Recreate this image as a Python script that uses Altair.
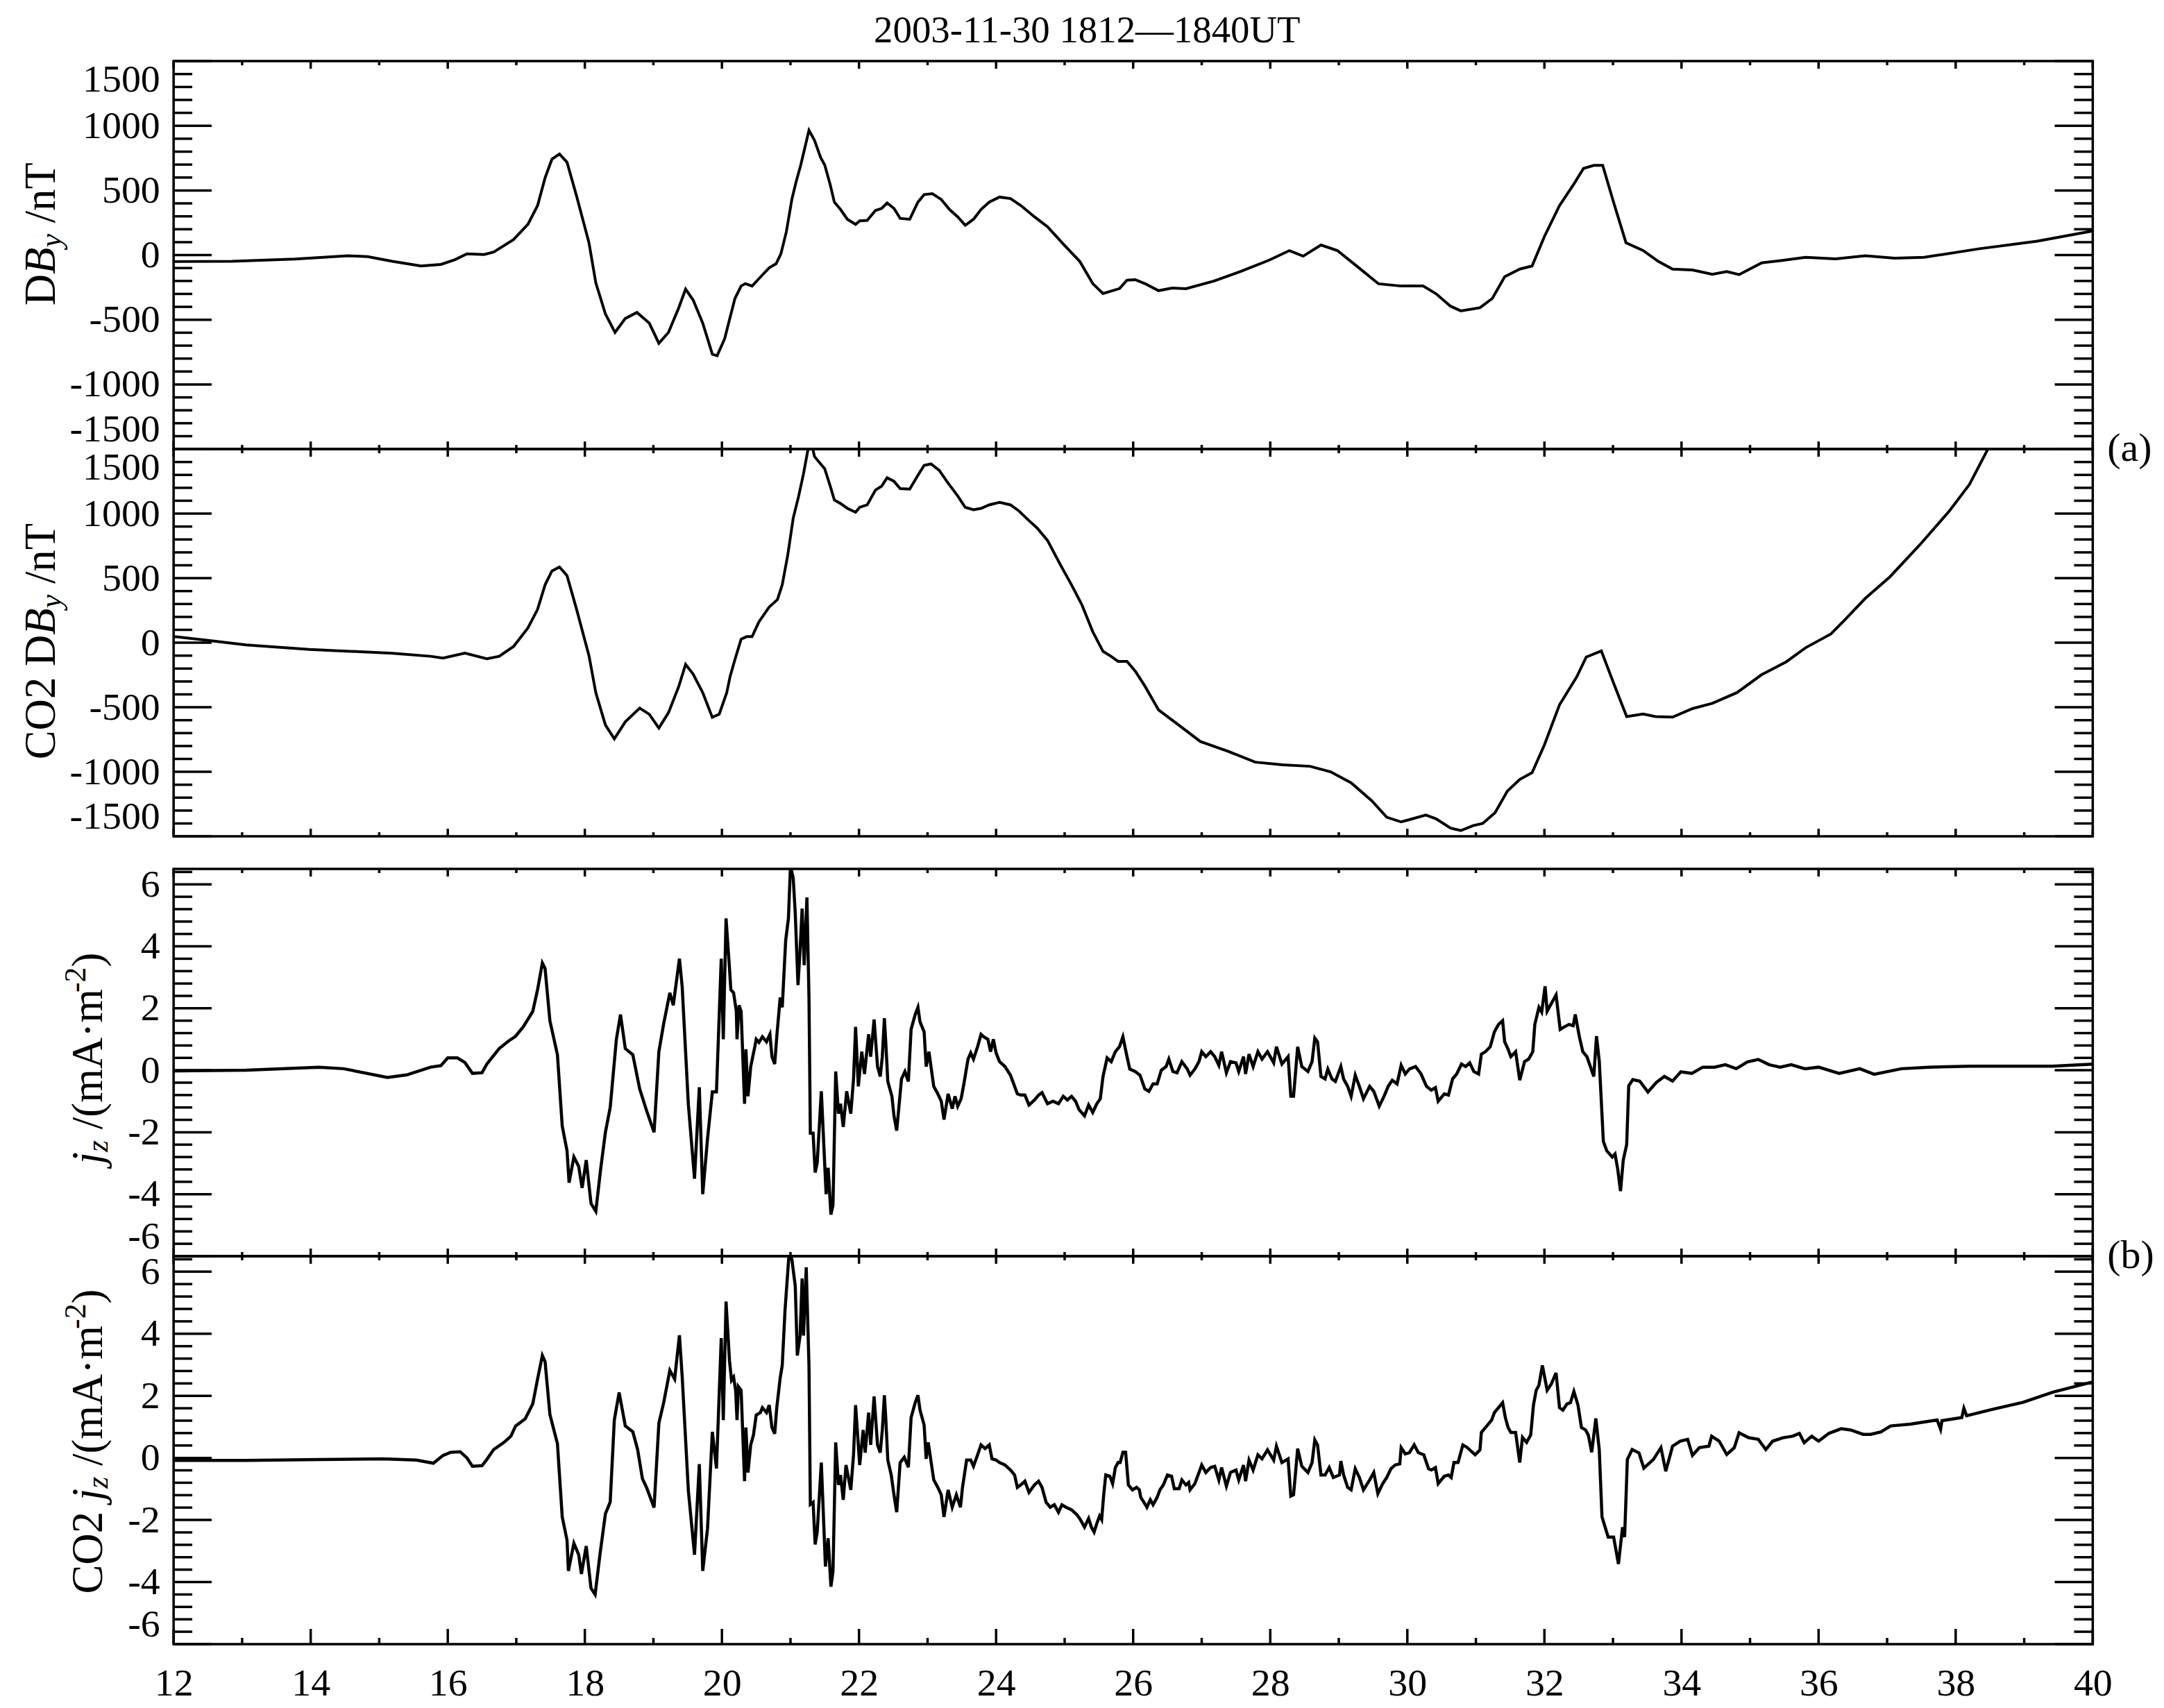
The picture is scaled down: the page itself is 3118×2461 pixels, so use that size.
import altair as alt
import pandas as pd

FONT = "Liberation Serif"

# ---------------- data ----------------
p1_t = [12.0, 12.85, 13.77, 14.55, 14.83, 15.19, 15.61, 15.9, 16.1, 16.28, 16.53, 16.67, 16.96, 17.17, 17.31,
        17.42, 17.52, 17.63, 17.74, 17.88, 18.06, 18.16, 18.3, 18.44, 18.59, 18.76, 18.94, 19.08, 19.22, 19.37,
        19.47, 19.58, 19.72, 19.86, 19.93, 20.04, 20.11, 20.19, 20.28, 20.34, 20.44, 20.54, 20.69, 20.79, 20.86,
        20.94, 21.02, 21.08, 21.15, 21.21, 21.27, 21.35, 21.44, 21.5, 21.58, 21.64, 21.73, 21.83, 21.95, 22.01,
        22.12, 22.24, 22.33, 22.41, 22.51, 22.6, 22.74, 22.86, 22.95, 23.07, 23.2, 23.32, 23.44, 23.55, 23.67,
        23.78, 23.9, 24.05, 24.21, 24.36, 24.56, 24.75, 24.98, 25.22, 25.41, 25.56, 25.68, 25.8, 25.91, 26.03,
        26.17, 26.37, 26.57, 26.77, 27.18, 27.58, 27.98, 28.28, 28.48, 28.74, 28.98, 29.28, 29.58, 29.91, 30.23,
        30.42, 30.63, 30.78, 31.06, 31.24, 31.42, 31.64, 31.82, 32.0, 32.22, 32.43, 32.57, 32.72, 32.85, 33.01,
        33.19, 33.44, 33.66, 33.87, 34.16, 34.45, 34.66, 34.84, 35.17, 35.45, 35.81, 36.25, 36.68, 37.11, 37.54,
        38.33, 39.19, 40.0]
p1_v = [-50, -48, -31, -5, -12, -48, -84, -72, -36, 10, 5, 24, 120, 239, 383,
        598, 742, 782, 718, 455, 96, -215, -455, -598, -490, -443, -526, -682, -598, -407,
        -263, -347, -526, -766, -778, -646, -500, -335, -239, -220, -239, -182, -98, -67, 9,
        181, 430, 563, 697, 831, 965, 888, 755, 697, 544, 410, 353, 277, 238, 265,
        269, 345, 361, 403, 361, 284, 277, 410, 468, 475, 430, 353, 296, 231, 277,
        353, 410, 449, 437, 384, 296, 219, 86, -48, -220, -297, -278, -259, -194, -190,
        -220, -275, -255, -260, -200, -124, -40, 35, -8, 78, 35, -93, -222, -239, -239,
        -299, -395, -431, -407, -335, -167, -108, -84, 144, 383, 550, 670, 694, 694, 407,
        96, 36, -48, -108, -115, -148, -127, -151, -60, -43, -17, -29, -5, -24, -17,
        48, 108, 187]

p2_t = [12.0, 12.57, 13.06, 13.98, 15.19, 15.75, 15.93, 16.25, 16.57, 16.75, 16.96, 17.17, 17.31, 17.42, 17.52,
        17.63, 17.74, 17.88, 18.06, 18.16, 18.3, 18.43, 18.59, 18.8, 18.94, 19.08, 19.22, 19.37, 19.47, 19.58,
        19.72, 19.86, 19.96, 20.07, 20.12, 20.19, 20.28, 20.36, 20.44, 20.54, 20.69, 20.81, 20.88, 20.96, 21.04,
        21.12, 21.19, 21.25, 21.3, 21.35, 21.44, 21.5, 21.58, 21.64, 21.73, 21.83, 21.95, 22.01, 22.12, 22.24,
        22.33, 22.41, 22.51, 22.6, 22.74, 22.86, 22.95, 23.05, 23.17, 23.28, 23.44, 23.55, 23.67, 23.78, 23.9,
        24.05, 24.21, 24.33, 24.48, 24.6, 24.75, 24.94, 25.1, 25.25, 25.41, 25.56, 25.68, 25.78, 25.91, 26.03,
        26.17, 26.37, 26.67, 26.98, 27.38, 27.78, 28.18, 28.58, 28.88, 29.18, 29.48, 29.7, 29.91, 30.27, 30.42,
        30.63, 30.78, 30.96, 31.1, 31.28, 31.46, 31.64, 31.82, 32.0, 32.22, 32.47, 32.61, 32.83, 33.01, 33.2,
        33.44, 33.62, 33.87, 34.16, 34.45, 34.81, 35.17, 35.53, 35.81, 36.18, 36.4, 36.68, 37.04, 37.48, 37.91,
        38.2, 38.47, 39.0, 40.0]
p2_v = [48, 14, -17, -52, -81, -105, -119, -81, -124, -105, -29, 115, 258, 449, 556,
        587, 520, 258, -100, -387, -637, -745, -613, -506, -554, -661, -542, -339, -167, -243,
        -387, -578, -554, -387, -260, -130, 28, 47, 47, 162, 277, 334, 449, 678, 965,
        1137, 1309, 1481, 1560, 1443, 1385, 1347, 1213, 1106, 1079, 1041, 1011, 1049, 1068, 1183,
        1213, 1278, 1251, 1194, 1190, 1297, 1374, 1385, 1336, 1251, 1137, 1049, 1030, 1041, 1068,
        1087, 1068, 1022, 946, 888, 793, 602, 449, 296, 86, -67, -106, -144, -144, -220,
        -335, -520, -640, -765, -840, -925, -946, -957, -1000, -1085, -1224, -1352, -1388, -1335, -1364,
        -1436, -1455, -1417, -1400, -1316, -1149, -1059, -1006, -791, -481, -266, -111, -63, -314, -572,
        -552, -572, -576, -510, -469, -386, -247, -147, -39, 68, 187, 343, 510, 760, 1022,
        1225, 1500, 2050, 3300]

p3_t = [12.0, 13.06, 14.12, 14.48, 15.12, 15.4, 15.75, 15.9, 16.0, 16.14, 16.25, 16.36, 16.5, 16.57, 16.75,
        16.89, 16.99, 17.1, 17.24, 17.31, 17.38, 17.42, 17.49, 17.6, 17.67, 17.74, 17.77, 17.84, 17.91, 17.96,
        18.02, 18.09, 18.16, 18.23, 18.3, 18.37, 18.46, 18.52, 18.59, 18.7, 18.8, 18.9, 19.01, 19.08, 19.15,
        19.24, 19.29, 19.38, 19.42, 19.51, 19.6, 19.67, 19.72, 19.79, 19.86, 19.92, 19.99, 20.02, 20.06, 20.11,
        20.13, 20.17, 20.21, 20.22, 20.25, 20.28, 20.33, 20.35, 20.38, 20.42, 20.48, 20.5, 20.54, 20.59, 20.65,
        20.7, 20.73, 20.77, 20.8, 20.85, 20.88, 20.93, 20.97, 21.0, 21.04, 21.07, 21.11, 21.14, 21.17, 21.2,
        21.24, 21.27, 21.29, 21.33, 21.36, 21.39, 21.45, 21.52, 21.55, 21.59, 21.62, 21.66, 21.7, 21.73, 21.77,
        21.82, 21.88, 21.92, 21.95, 21.99, 22.04, 22.08, 22.14, 22.17, 22.22, 22.27, 22.31, 22.34, 22.37, 22.39,
        22.42, 22.48, 22.51, 22.55, 22.62, 22.67, 22.72, 22.76, 22.82, 22.86, 22.89, 22.95, 22.98, 23.02, 23.09,
        23.15, 23.2, 23.24, 23.3, 23.36, 23.4, 23.44, 23.49, 23.53, 23.59, 23.63, 23.67, 23.73, 23.78, 23.82,
        23.88, 23.92, 23.96, 24.0, 24.05, 24.13, 24.21, 24.31, 24.36, 24.42, 24.48, 24.56, 24.62, 24.67, 24.75,
        24.83, 24.91, 24.98, 25.04, 25.1, 25.16, 25.21, 25.29, 25.35, 25.41, 25.47, 25.52, 25.56, 25.62, 25.68,
        25.74, 25.8, 25.85, 25.91, 25.95, 26.03, 26.1, 26.17, 26.23, 26.29, 26.35, 26.41, 26.48, 26.52, 26.58,
        26.64, 26.71, 26.79, 26.83, 26.9, 26.96, 27.0, 27.06, 27.13, 27.19, 27.25, 27.29, 27.36, 27.42, 27.5,
        27.54, 27.61, 27.64, 27.69, 27.75, 27.82, 27.88, 27.96, 28.05, 28.09, 28.17, 28.26, 28.3, 28.34, 28.4,
        28.46, 28.55, 28.61, 28.65, 28.69, 28.74, 28.8, 28.84, 28.9, 28.95, 29.03, 29.07, 29.13, 29.18, 29.24,
        29.3, 29.36, 29.45, 29.51, 29.59, 29.66, 29.72, 29.78, 29.85, 29.91, 29.97, 30.03, 30.12, 30.2, 30.28,
        30.35, 30.41, 30.45, 30.54, 30.6, 30.66, 30.72, 30.79, 30.85, 30.91, 30.97, 31.04, 31.08, 31.14, 31.21,
        31.27, 31.33, 31.39, 31.42, 31.47, 31.51, 31.58, 31.64, 31.71, 31.77, 31.83, 31.86, 31.92, 31.96, 32.01,
        32.04, 32.1, 32.17, 32.23, 32.29, 32.36, 32.42, 32.45, 32.51, 32.56, 32.62, 32.67, 32.72, 32.76, 32.8,
        32.86, 32.91, 32.99, 33.03, 33.07, 33.11, 33.15, 33.2, 33.23, 33.29, 33.39, 33.51, 33.63, 33.75, 33.87,
        33.99, 34.15, 34.31, 34.48, 34.64, 34.8, 34.96, 35.12, 35.28, 35.44, 35.6, 35.8, 36.0, 36.3, 36.6,
        36.81, 37.21, 37.61, 38.21, 38.81, 39.41, 40.0]
p3_v = [-0.02, 0.0, 0.1, 0.05, -0.23, -0.15, 0.1, 0.15, 0.4, 0.4, 0.25, -0.1, -0.08, 0.2, 0.7,
        0.95, 1.1, 1.4, 1.9, 2.6, 3.46, 3.28, 1.6, 0.5, -1.8, -2.6, -3.63, -2.8, -3.1, -3.8,
        -2.9, -4.3, -4.55, -3.2, -2.0, -1.2, 1.0, 1.8, 0.7, 0.5, -0.6, -1.3, -2.0, 0.6, 1.5,
        2.5, 2.1, 3.6, 2.7, -1.1, -3.5, -0.55, -4.0, -2.2, -0.7, -0.7, 3.6, 1.0, 4.9, 3.3,
        2.6, 2.5, 1.9, 1.0, 2.1, 1.9, -1.08, 0.68, -0.84, 0.12, 0.76, 1.0, 0.9, 1.08, 0.92,
        1.16, 0.44, 0.2, 1.08, 2.35, 2.03, 4.19, 4.9, 6.6, 6.2, 5.06, 2.75, 3.87, 5.22, 3.39,
        5.58, 2.35, -2.03, -2.03, -3.3, -2.99, -0.68, -4.0, -3.15, -4.66, -4.35, -0.04, -1.4, -1.08, -1.83,
        -0.68, -1.4, -0.28, 1.4, -0.52, 0.6, -0.12, 1.16, 0.44, 1.64, 0.12, -0.2, 0.44, 1.68, 0.92,
        -0.36, -0.84, -1.47, -1.95, -0.28, -0.04, -0.36, 1.32, 1.8, 2.03, 1.56, 1.24, 0.12, 0.6, -0.52,
        -0.76, -1.0, -1.59, -0.76, -1.24, -0.84, -1.16, -0.92, -0.44, 0.36, 0.56, 0.36, 0.76, 1.16, 1.08,
        1.0, 0.6, 1.0, 0.56, 0.28, 0.12, -0.16, -0.76, -0.8, -0.8, -1.12, -0.96, -0.8, -0.72, -1.08,
        -1.0, -1.08, -0.84, -0.96, -0.84, -1.0, -1.27, -1.47, -1.12, -1.36, -1.08, -0.92, -0.2, 0.4, 0.28,
        0.6, 0.76, 1.08, 0.44, 0.04, -0.04, -0.16, -0.6, -0.68, -0.44, -0.44, 0.0, 0.12, 0.36, -0.04,
        -0.08, 0.28, 0.04, -0.16, 0.04, 0.28, 0.6, 0.44, 0.6, 0.44, 0.16, 0.6, -0.08, 0.28, 0.24,
        -0.04, 0.44, -0.12, 0.52, 0.12, 0.6, 0.36, 0.6, 0.24, 0.76, 0.2, 0.44, -0.84, -0.84, 0.76,
        0.12, -0.04, 0.28, 1.04, 0.92, -0.2, -0.28, 0.04, -0.28, -0.36, 0.12, -0.28, -0.52, -0.84, -0.16,
        -0.52, -0.92, -0.52, -0.68, -1.16, -0.84, -0.52, -0.32, -0.44, 0.16, -0.12, 0.04, 0.12, -0.12, -0.52,
        -0.64, -0.56, -1.0, -0.76, -0.8, -0.28, -0.12, 0.2, 0.12, 0.24, -0.04, -0.12, 0.52, 0.6, 0.76,
        1.24, 1.48, 1.6, 0.92, 0.68, 0.44, 0.6, -0.32, 0.28, 0.36, 0.6, 1.48, 2.03, 1.88, 2.71,
        1.91, 2.15, 2.43, 1.32, 1.4, 1.48, 1.44, 1.8, 1.08, 0.6, 0.44, 0.12, -0.2, 1.1, 0.3,
        -2.3, -2.6, -2.8, -2.7, -3.2, -3.9, -2.9, -2.4, -0.5, -0.3, -0.35, -0.7, -0.4, -0.2, -0.35,
        -0.05, -0.1, 0.1, 0.1, 0.18, 0.05, 0.27, 0.35, 0.18, 0.1, 0.18, 0.05, 0.1, -0.1, 0.05,
        -0.13, 0.05, 0.1, 0.13, 0.13, 0.13, 0.2]

p4_t = [12.0, 13.06, 14.12, 15.05, 15.54, 15.79, 15.93, 16.04, 16.18, 16.28, 16.36, 16.5, 16.57, 16.67, 16.82,
        16.92, 16.99, 17.13, 17.24, 17.31, 17.38, 17.42, 17.49, 17.6, 17.67, 17.74, 17.76, 17.84, 17.91, 17.95,
        18.02, 18.09, 18.15, 18.22, 18.3, 18.37, 18.43, 18.5, 18.59, 18.7, 18.77, 18.84, 18.9, 19.01, 19.08,
        19.15, 19.24, 19.31, 19.38, 19.42, 19.51, 19.6, 19.67, 19.72, 19.79, 19.86, 19.92, 19.99, 20.02, 20.06,
        20.11, 20.14, 20.17, 20.2, 20.22, 20.24, 20.28, 20.33, 20.35, 20.38, 20.42, 20.46, 20.5, 20.56, 20.59,
        20.65, 20.69, 20.73, 20.77, 20.8, 20.85, 20.88, 20.92, 20.98, 21.02, 21.07, 21.1, 21.14, 21.17, 21.19,
        21.23, 21.27, 21.29, 21.33, 21.36, 21.39, 21.45, 21.51, 21.55, 21.59, 21.62, 21.66, 21.7, 21.73, 21.77,
        21.81, 21.88, 21.92, 21.95, 22.01, 22.06, 22.09, 22.14, 22.17, 22.22, 22.27, 22.31, 22.34, 22.37, 22.39,
        22.42, 22.47, 22.51, 22.55, 22.6, 22.66, 22.72, 22.76, 22.82, 22.86, 22.89, 22.95, 22.98, 23.01, 23.09,
        23.15, 23.2, 23.24, 23.3, 23.36, 23.42, 23.48, 23.51, 23.57, 23.63, 23.67, 23.73, 23.78, 23.84, 23.9,
        23.94, 24.0, 24.05, 24.13, 24.21, 24.27, 24.31, 24.36, 24.42, 24.48, 24.56, 24.62, 24.67, 24.73, 24.79,
        24.85, 24.91, 24.96, 25.02, 25.1, 25.18, 25.23, 25.29, 25.35, 25.39, 25.43, 25.47, 25.51, 25.54, 25.57,
        25.6, 25.66, 25.7, 25.74, 25.78, 25.81, 25.85, 25.89, 25.93, 25.99, 26.05, 26.09, 26.11, 26.18, 26.2,
        26.25, 26.29, 26.35, 26.39, 26.44, 26.5, 26.56, 26.6, 26.67, 26.71, 26.77, 26.81, 26.83, 26.9, 26.96,
        27.0, 27.06, 27.13, 27.19, 27.25, 27.29, 27.36, 27.42, 27.5, 27.54, 27.61, 27.64, 27.69, 27.75, 27.82,
        27.88, 27.96, 28.05, 28.09, 28.17, 28.26, 28.3, 28.34, 28.4, 28.46, 28.55, 28.61, 28.65, 28.69, 28.74,
        28.8, 28.86, 28.92, 29.01, 29.03, 29.07, 29.13, 29.18, 29.24, 29.3, 29.36, 29.45, 29.51, 29.57, 29.64,
        29.7, 29.76, 29.82, 29.89, 29.91, 29.97, 30.03, 30.1, 30.16, 30.24, 30.31, 30.35, 30.41, 30.45, 30.54,
        30.6, 30.64, 30.68, 30.74, 30.81, 30.87, 30.93, 30.99, 31.06, 31.08, 31.14, 31.23, 31.27, 31.33, 31.39,
        31.43, 31.47, 31.51, 31.58, 31.64, 31.68, 31.74, 31.8, 31.84, 31.88, 31.92, 31.97, 32.04, 32.1, 32.17,
        32.22, 32.27, 32.33, 32.38, 32.43, 32.49, 32.54, 32.6, 32.64, 32.69, 32.75, 32.8, 32.84, 32.93, 33.01,
        33.08, 33.14, 33.17, 33.21, 33.28, 33.38, 33.45, 33.59, 33.7, 33.77, 33.87, 33.98, 34.09, 34.16, 34.26,
        34.4, 34.44, 34.55, 34.66, 34.77, 34.84, 34.98, 35.12, 35.23, 35.33, 35.48, 35.62, 35.72, 35.79, 35.9,
        36.0, 36.15, 36.33, 36.47, 36.65, 36.76, 36.91, 37.05, 37.34, 37.55, 37.73, 37.78, 37.8, 38.09, 38.12,
        38.16, 38.55, 38.98, 39.42, 40.0]
p4_v = [-0.08, -0.08, -0.05, -0.03, -0.07, -0.17, 0.08, 0.18, 0.2, 0.0, -0.27, -0.25, -0.05, 0.27, 0.5,
        0.7, 1.03, 1.26, 1.74, 2.54, 3.3, 3.1, 1.4, 0.46, -1.9, -2.65, -3.64, -2.75, -3.12, -3.74,
        -2.84, -4.2, -4.4, -3.12, -1.8, -1.42, 1.22, 2.11, 1.03, 0.84, 0.27, -0.67, -0.95, -1.6, 1.12,
        1.78, 2.82, 2.54, 3.95, 2.63, -1.05, -3.12, -0.2, -3.64, -2.27, 0.84, -0.34, 3.86, 1.22, 5.04,
        3.14, 2.5, 2.6, 2.18, 1.22, 2.3, 2.18, -0.75, 0.98, -0.47, 0.42, 0.74, 1.38, 1.46, 1.62,
        1.46, 1.7, 0.98, 0.78, 1.62, 2.58, 2.98, 4.74, 6.6, 6.4, 5.54, 3.3, 3.94, 5.78, 3.94,
        6.14, 2.98, -1.5, -1.43, -2.79, -2.39, -0.15, -3.5, -2.59, -4.15, -3.67, 0.5, -0.87, -0.55, -1.35,
        -0.23, -1.03, 0.1, 1.7, -0.23, 0.9, 0.17, 1.46, 0.42, 1.98, 0.42, 0.17, 0.9, 2.02, 1.3,
        -0.07, -0.55, -1.19, -1.75, -0.15, 0.02, -0.3, 1.3, 1.78, 2.02, 1.54, 1.06, -0.03, 0.5, -0.7,
        -0.95, -1.19, -1.9, -1.03, -1.59, -1.19, -1.59, -0.95, -0.07, -0.07, -0.27, 0.1, 0.42, 0.3, 0.42,
        -0.03, -0.07, -0.15, -0.23, -0.39, -0.55, -0.95, -0.87, -0.75, -1.11, -0.87, -0.75, -0.95, -1.43, -1.59,
        -1.51, -1.75, -1.51, -1.59, -1.67, -1.83, -1.99, -2.23, -1.95, -2.23, -2.39, -2.11, -1.87, -1.99, -1.19,
        -0.55, -0.59, -0.83, -0.31, -0.15, -0.15, 0.18, 0.18, -0.87, -1.03, -0.95, -1.03, -1.27, -1.51, -1.59,
        -1.35, -1.51, -1.27, -1.03, -0.87, -0.55, -0.59, -0.99, -0.99, -0.71, -0.87, -0.79, -1.03, -0.83, -0.47,
        -0.23, -0.47, -0.31, -0.27, -0.71, -0.31, -0.91, -0.47, -0.39, -0.71, -0.23, -0.75, -0.07, -0.39, 0.1,
        -0.03, 0.26, -0.07, 0.38, -0.15, -0.03, -1.23, -1.19, 0.3, -0.27, -0.47, -0.15, 0.58, 0.42, -0.55,
        -0.55, -0.31, -0.63, -0.55, -0.1, -0.55, -0.95, -1.03, -0.35, -0.63, -1.03, -0.71, -0.47, -1.15, -0.83,
        -0.63, -0.35, -0.23, -0.19, 0.33, 0.13, 0.17, 0.42, 0.17, 0.1, -0.35, -0.39, -0.31, -0.83, -0.59,
        -0.55, -0.63, -0.15, -0.15, 0.42, 0.34, 0.22, 0.1, 0.26, 0.82, 0.98, 1.22, 1.46, 1.62, 1.78,
        1.3, 0.98, 0.82, 0.82, -0.15, 0.66, 0.5, 0.74, 1.7, 2.18, 2.34, 2.98, 2.18, 2.38, 2.74,
        1.62, 1.54, 1.74, 1.78, 2.14, 1.7, 0.98, 0.9, 0.74, 0.18, 1.27, 0.27, -1.9, -2.55, -2.55,
        -3.42, -2.23, -2.55, -0.05, 0.27, 0.16, -0.33, -0.05, 0.33, -0.43, 0.38, 0.54, 0.6, 0.08, 0.33,
        0.38, 0.7, 0.54, 0.11, 0.33, 0.81, 0.65, 0.6, 0.27, 0.54, 0.65, 0.7, 0.79, 0.49, 0.7,
        0.54, 0.79, 0.94, 0.9, 0.76, 0.76, 0.84, 1.03, 1.09, 1.16, 1.22, 0.92, 1.2, 1.3, 1.6,
        1.36, 1.57, 1.79, 2.12, 2.45]

# ---------------- axis ticks / labels ----------------
x_major = [12, 14, 16, 18, 20, 22, 24, 26, 28, 30, 32, 34, 36, 38, 40]
x_minor = [13, 15, 17, 19, 21, 23, 25, 27, 29, 31, 33, 35, 37, 39]
b_major = [-1500, -1000, -500, 0, 500, 1000, 1500]
b_minor = [v for v in range(-1400, 1500, 100) if v % 500 != 0]
j_major = [-6, -4, -2, 0, 2, 4, 6]
j_minor = [round(-6 + 0.4 * k, 1) for k in range(32) if k % 5 != 0]

title_text = "2003-11-30 1812\u20141840UT"
t1_pieces = [("D", "normal", ""), ("B", "italic", ""), ("y", "italic", "sub"), (" /nT", "normal", "")]
t2_pieces = [("CO2 D", "normal", ""), ("B", "italic", ""), ("y", "italic", "sub"), (" /nT", "normal", "")]
t3_pieces = [("j", "italic", ""), ("z", "italic", "sub"), (" /(mA\u00b7m", "normal", ""),
             ("-2", "normal", "sup"), (")", "normal", "")]
t4_pieces = [("CO2 ", "normal", ""), ("j", "italic", ""), ("z", "italic", "sub"),
             (" /(mA\u00b7m", "normal", ""), ("-2", "normal", "sup"), (")", "normal", "")]

# ---------------- layout ----------------
W = 2775
H = [561, 560, 560, 561]
GAP = 47
TICK_FS = 56
YT_FS = 63
MAJ_Y, MIN_Y = 55, 27

CW = {'D': 0.722, 'C': 0.667, 'O': 0.722, '2': 0.5, ' ': 0.25, '/': 0.278, 'n': 0.5, 'T': 0.611,
      '(': 0.333, ')': 0.333, 'm': 0.778, 'A': 0.722, '\u00b7': 0.25, '-': 0.333,
      'B': 0.611, 'y': 0.444, 'j': 0.278, 'z': 0.389}

x_scale = alt.Scale(domain=[12, 40], nice=False, zero=False)
one = pd.DataFrame({"a": [0]})


def ytitle_layers(pieces, center, base_x):
    widths = []
    for txt, style, kind in pieces:
        f = YT_FS * (0.7 if kind else 1.0)
        widths.append(sum(CW.get(c, 0.5) for c in txt) * f)
    total = sum(widths)
    pos = center + total / 2.0
    layers = []
    for (txt, style, kind), w in zip(pieces, widths):
        f = YT_FS * (0.7 if kind else 1.0)
        lead = len(txt) - len(txt.lstrip(" "))
        start = pos - lead * CW[' '] * f
        dx = 9 if kind == "sub" else (-24 if kind == "sup" else 0)
        layers.append(alt.Chart(one).mark_text(
            text=txt.strip(), font=FONT, fontSize=f, fontStyle=style, angle=270,
            align="left", baseline="alphabetic", color="black"
        ).encode(x=alt.value(base_x + dx), y=alt.value(start)))
        pos -= w
    return layers


def panel(t, v, dom, ymaj, ymin, h, pieces, tcenter, tbase, lw, bottom=False, tag=None):
    ys = alt.Scale(domain=dom, nice=False, zero=False)
    if bottom:
        xax = alt.Axis(values=x_major, ticks=False, domain=False, grid=False, labelFont=FONT,
                       labelFontSize=TICK_FS, labelPadding=30, labelFlush=False, labelColor="black",
                       labelExpr="'' + datum.value", title=None)
    else:
        xax = None
    yax = alt.Axis(values=ymaj, ticks=False, domain=False, grid=False, labelFont=FONT,
                   labelFontSize=TICK_FS, labelPadding=20, labelFlush=True, labelOverlap=False,
                   labelColor="black", labelExpr="'' + datum.value", title=None)
    line = alt.Chart(pd.DataFrame({"t": t, "v": v})).mark_line(
        color="black", strokeWidth=lw, clip=True).encode(
        x=alt.X("t:Q", scale=x_scale, axis=xax),
        y=alt.Y("v:Q", scale=ys, axis=yax))
    layers = [line]
    ymj = pd.DataFrame({"v": ymaj})
    ymn = pd.DataFrame({"v": ymin})
    for df, ln in ((ymj, MAJ_Y), (ymn, MIN_Y)):
        for x0, x1 in ((0, ln), (W, W - ln)):
            layers.append(alt.Chart(df).mark_rule(color="black", strokeWidth=3.5).encode(
                y=alt.Y("v:Q", scale=ys, axis=yax), x=alt.value(x0), x2=alt.value(x1)))
    xmj = pd.DataFrame({"t": x_major})
    xmn = pd.DataFrame({"t": x_minor})
    bmaj, bmin = (22, 9) if bottom else (11, 6)
    for df, top_len, bot_len in ((xmj, 11, bmaj), (xmn, 6, bmin)):
        layers.append(alt.Chart(df).mark_rule(color="black", strokeWidth=3.5).encode(
            x=alt.X("t:Q", scale=x_scale, axis=xax), y=alt.value(0), y2=alt.value(top_len)))
        layers.append(alt.Chart(df).mark_rule(color="black", strokeWidth=3.5).encode(
            x=alt.X("t:Q", scale=x_scale, axis=xax), y=alt.value(h), y2=alt.value(h - bot_len)))
    layers += ytitle_layers(pieces, tcenter, tbase)
    if tag:
        layers.append(alt.Chart(one).mark_text(
            text=tag, font=FONT, fontSize=TICK_FS + 2, align="left", baseline="middle", color="black"
        ).encode(x=alt.value(W + 21), y=alt.value(h)))
    return alt.layer(*layers).properties(width=W, height=h)


p1 = panel(p1_t, p1_v, [-1500, 1500], b_major, b_minor, H[0], t1_pieces, 250, -172, 4, tag="(a)")
p2 = panel(p2_t, p2_v, [-1500, 1500], b_major, b_minor, H[1], t2_pieces, 278, -172, 4)
p3 = panel(p3_t, p3_v, [-6, 6.5], j_major, j_minor, H[2], t3_pieces, 274, -104, 4.5, tag="(b)")
p4 = panel(p4_t, p4_v, [-6, 6.5], j_major, j_minor, H[3], t4_pieces, 268, -104, 4.5, bottom=True)

spacer = alt.Chart(one).mark_point(opacity=0).encode(
    x=alt.value(0), y=alt.value(0)
).properties(width=W, height=GAP, view=alt.ViewBackground(stroke=None))

chart = alt.vconcat(p1, p2, spacer, p3, p4, spacing=0, bounds="flush").properties(
    title=alt.TitleParams(title_text, font=FONT, fontSize=55, fontWeight="normal", color="black",
                          anchor="middle", offset=12),
    padding={"left": 19, "top": 4, "right": 4, "bottom": 4},
).configure(background="white").configure_view(stroke="black", strokeWidth=3.5)

chart.save("out.html", embed_options={"renderer": "svg", "actions": False})
